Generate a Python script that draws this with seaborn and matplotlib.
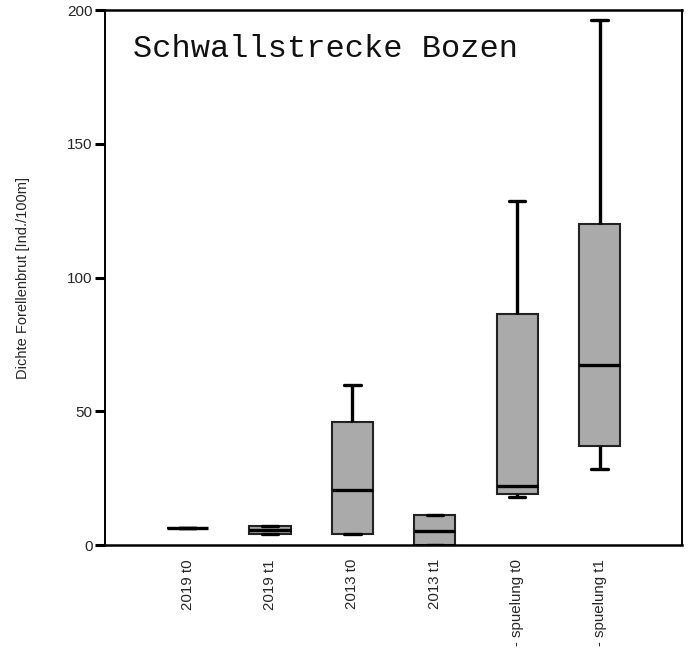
import numpy as np
import pandas as pd
import matplotlib
matplotlib.use("Agg")
import matplotlib.pyplot as plt
import seaborn as sns

# Categories (sampling campaigns) and five-number summaries per group:
# minimum, lower quartile, median, upper quartile, maximum
categories = ["2019 t0", "2019 t1", "2013 t0", "2013 t1", "- spuelung t0", "- spuelung t1"]
v_2019_t0 = [6.5, 6.5, 6.5, 6.5, 6.5]
v_2019_t1 = [4.0, 4.0, 5.5, 7.0, 7.0]
v_2013_t0 = [4.0, 4.0, 20.5, 46.0, 60.0]
v_2013_t1 = [0.0, 0.0, 5.4, 11.2, 11.2]
v_sp_t0 = [18.1, 19.0, 22.2, 86.4, 128.5]
v_sp_t1 = [28.3, 37.1, 67.2, 119.9, 196.4]

y_ticks = [0, 50, 100, 150, 200]
title = "Schwallstrecke Bozen"
y_label = "Dichte Forellenbrut [Ind./100m]"

groups = [v_2019_t0, v_2019_t1, v_2013_t0, v_2013_t1, v_sp_t0, v_sp_t1]
df = pd.DataFrame({
    "gruppe": np.repeat(categories, [len(g) for g in groups]),
    "dichte": np.concatenate(groups),
})

sns.set_theme(style="white")
plt.rcParams["font.family"] = ["Liberation Sans", "DejaVu Sans"]

fig = plt.figure(figsize=(6.92, 6.56), dpi=100)
ax = fig.add_axes([0.152, 0.169, 0.8335, 0.8155])

sns.boxplot(
    data=df, x="gruppe", y="dichte", order=categories, ax=ax,
    whis=(0, 100), width=0.5, color="#aaaaaa", saturation=1,
    showfliers=False,
    boxprops=dict(facecolor="#aaaaaa", edgecolor="#222222", linewidth=1.5),
    whiskerprops=dict(color="black", linewidth=2.4),
    capprops=dict(color="black", linewidth=2.4),
    medianprops=dict(color="black", linewidth=2.4),
    capwidths=0.2,
)

ax.set_xlim(-1, 6)
ax.set_ylim(0, 200)
ax.set_yticks(y_ticks)
ax.set_yticklabels([str(t) for t in y_ticks], fontsize=11)
ax.set_xticks(range(len(categories)))
ax.set_xticklabels(categories, rotation=90, fontsize=10.8, va="top", ha="center")
ax.tick_params(axis="y", direction="out", length=7, width=2.2, color="black", left=True, pad=2)
ax.tick_params(axis="x", length=0, pad=10)
ax.set_xlabel("")
ax.set_ylabel(y_label, fontsize=10.5, labelpad=27)

for side in ["top", "bottom"]:
    ax.spines[side].set_linewidth(1.8)
    ax.spines[side].set_color("black")
for side in ["left", "right"]:
    ax.spines[side].set_linewidth(1.4)
    ax.spines[side].set_color("black")

ax.text(0.049, 0.912, title, transform=ax.transAxes, family="Liberation Mono",
        fontsize=23, va="baseline", ha="left", color="#111111")

fig.savefig("out.png", dpi=100)
